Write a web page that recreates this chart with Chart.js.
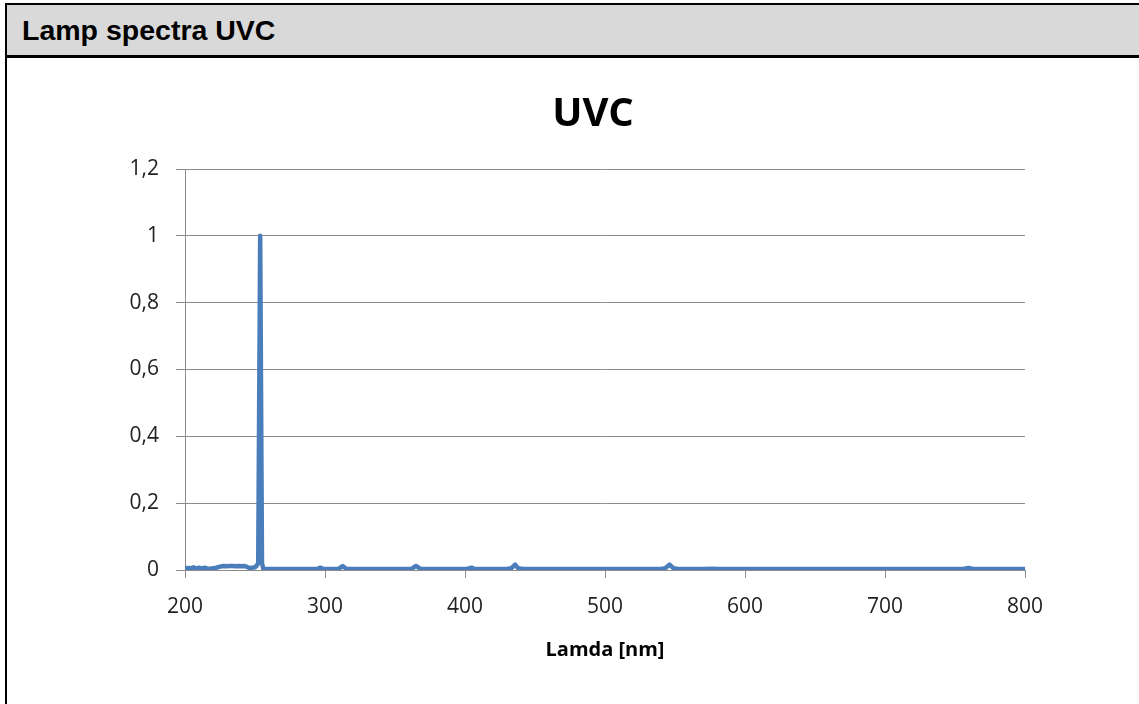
<!DOCTYPE html>
<html>
<head>
<meta charset="utf-8">
<script src="https://cdn.jsdelivr.net/npm/chart.js@4/dist/chart.umd.min.js"></script>
<style>
  html, body { margin: 0; padding: 0; background: #fff; width: 1139px; height: 704px; overflow: hidden; }
  #header { position: absolute; left: 5px; top: 3px; right: 0; height: 50px;
            background: #d9d9d9; border-top: 2px solid #000; border-bottom: 3px solid #000; border-left: 2px solid #000; }
  #header span { position: absolute; left: 15px; top: 11px; font: bold 28.5px "Liberation Sans", Arial, sans-serif; line-height: 28px; color: #000; }
  #leftline { position: absolute; left: 5px; top: 3px; width: 2px; height: 701px; background: #000; z-index: 2; }
  #wrap { position: absolute; left: 0; top: 57px; width: 1139px; height: 647px; }
</style>
</head>
<body>
<div id="header"><span>Lamp spectra UVC</span></div>
<div id="leftline"></div>
<div id="wrap"><canvas id="c"></canvas></div>
<script>
// Wavelength (nm)
const wavelengths = [200,202,204,206,208,210,212,214,216,218,220,222,224,226,228,230,232,234,236,238,240,242,244,246,248,250,251,252.3,253.7,255.0,256,258,262,270,280,290,294,296.7,299,306,310,312.6,315,320,340,360,362,365,368,372,390,400,402,404.7,407,420,430,433,435.8,438,441,460,500,520,540,543,546.1,549,552,570,577,580,600,650,700,750,756,759.5,763,780,800];
// Relative intensity
const intensities = [0.004,0.006,0.005,0.008,0.005,0.007,0.005,0.007,0.004,0.004,0.005,0.006,0.009,0.011,0.012,0.011,0.012,0.012,0.011,0.012,0.011,0.012,0.010,0.006,0.007,0.008,0.012,0.02,1.0,0.02,0.003,0.003,0.003,0.003,0.003,0.003,0.003,0.007,0.003,0.003,0.004,0.012,0.004,0.003,0.003,0.003,0.004,0.012,0.004,0.003,0.003,0.003,0.004,0.007,0.003,0.003,0.003,0.005,0.016,0.005,0.003,0.003,0.003,0.003,0.003,0.005,0.016,0.005,0.003,0.003,0.004,0.003,0.003,0.003,0.003,0.003,0.003,0.006,0.003,0.003,0.003];
const xTicks = [200,300,400,500,600,700,800];
const yTicks = [0,0.2,0.4,0.6,0.8,1,1.2];

const points = wavelengths.map((w, i) => ({ x: w, y: intensities[i] }));
const gridColor = '#8c8c8c';

const shiftTitle = {
  id: 'shiftTitle',
  afterLayout(chart) {
    const t = chart.titleBlock;
    if (t) { t.left -= 12; t.right -= 12; }
  }
};

new Chart(document.getElementById('c'), {
  type: 'line',
  data: {
    datasets: [{
      label: 'UVC',
      data: points,
      borderColor: '#4a7ebb',
      borderWidth: 4.5,
      pointRadius: 0,
      tension: 0,
      fill: false,
      borderJoinStyle: 'round',
      borderCapStyle: 'round'
    }]
  },
  plugins: [shiftTitle],
  options: {
    responsive: true,
    maintainAspectRatio: false,
    animation: false,
    layout: { padding: { left: 0, right: 114, top: 0, bottom: 0 } },
    plugins: {
      legend: { display: false },
      tooltip: { enabled: false },
      title: {
        display: true,
        fullSize: false,
        text: 'UVC',
        color: '#000',
        font: { family: '"Open Sans"', size: 40, weight: 'bold' },
        padding: { top: 34, bottom: 30 }
      }
    },
    scales: {
      x: {
        type: 'linear',
        min: xTicks[0],
        max: xTicks[xTicks.length - 1],
        afterBuildTicks: (s) => { s.ticks = xTicks.map(v => ({ value: v })); },
        afterFit: (s) => { s.height = 134; },
        grid: { drawOnChartArea: false, drawTicks: true, tickLength: 8, color: gridColor, lineWidth: 1 },
        border: { display: true, color: gridColor, width: 1 },
        ticks: { color: '#222', font: { family: '"Open Sans"', size: 21 }, padding: 16, maxRotation: 0 },
        title: {
          display: true, text: 'Lamda [nm]', color: '#000',
          font: { family: '"Open Sans"', size: 20, weight: 'bold' },
          padding: { top: 0, bottom: 42 }
        }
      },
      y: {
        min: yTicks[0],
        max: yTicks[yTicks.length - 1],
        afterBuildTicks: (s) => { s.ticks = yTicks.map(v => ({ value: v })); },
        afterFit: (s) => { s.width = 185; },
        grid: { drawTicks: true, tickLength: 9, color: gridColor, lineWidth: 1 },
        border: { display: true, color: gridColor, width: 1 },
        ticks: {
          color: '#222', font: { family: '"Open Sans"', size: 21 }, padding: 17,
          callback: (v) => String(Math.round(v * 10) / 10).replace('.', ',')
        }
      }
    }
  }
});
</script>
</body>
</html>
